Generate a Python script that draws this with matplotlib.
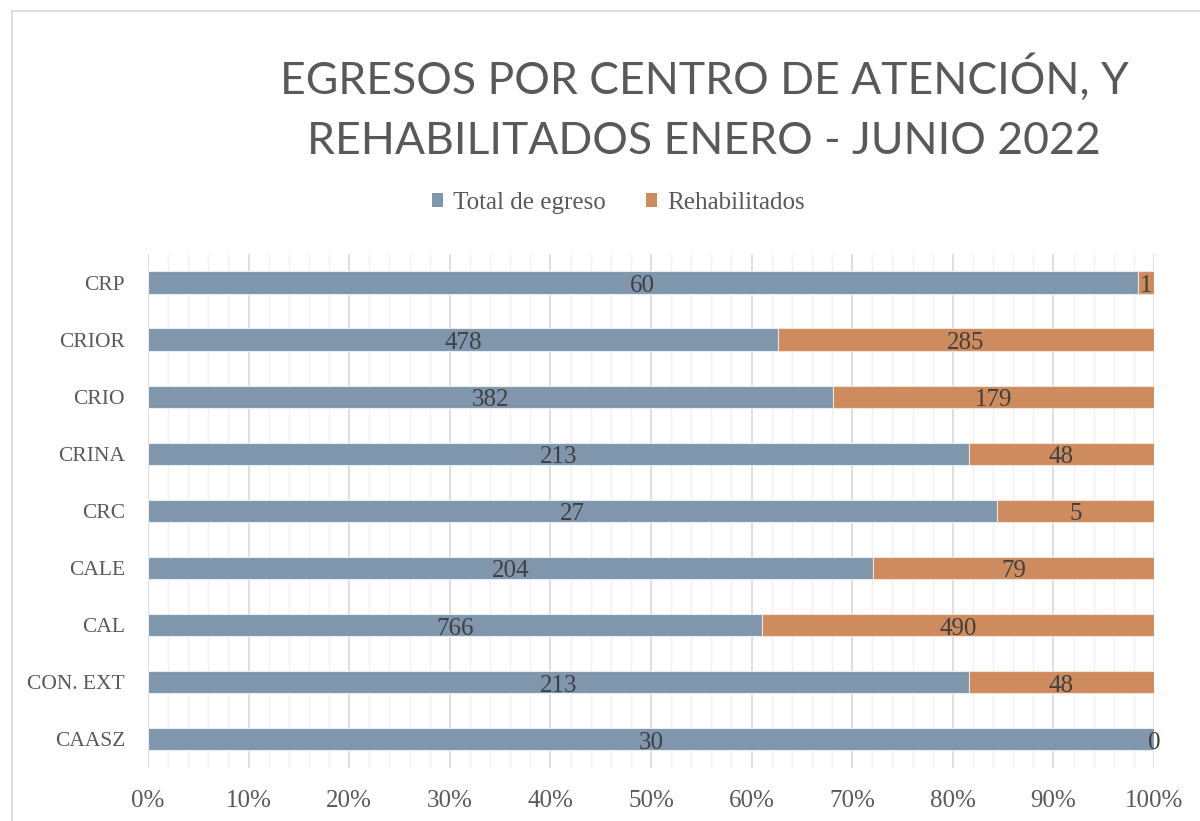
import matplotlib
matplotlib.use("Agg")
import matplotlib.pyplot as plt
import numpy as np
from matplotlib.lines import Line2D
from matplotlib.patches import Patch
from matplotlib.ticker import MultipleLocator, PercentFormatter

centros = ["CRP", "CRIOR", "CRIO", "CRINA", "CRC", "CALE", "CAL", "CON. EXT", "CAASZ"]
total_egreso = [60, 478, 382, 213, 27, 204, 766, 213, 30]
rehabilitados = [1, 285, 179, 48, 5, 79, 490, 48, 0]

BLUE = "#7F96AD"
ORANGE = "#CD8B5E"
SERIF = "Liberation Serif"
TITLE_FONT = "Lato"

fig = plt.figure(figsize=(12, 8.21), dpi=100)
ax = fig.add_axes([148 / 1200, 1 - 767.5 / 821, 1006 / 1200, 513.5 / 821])

total = np.array(total_egreso, dtype=float)
rehab = np.array(rehabilitados, dtype=float)
suma = total + rehab
pct_total = total / suma * 100
pct_rehab = rehab / suma * 100

y = np.arange(len(centros))[::-1]
h = 0.39
ax.barh(y, pct_total, height=h, color=BLUE, edgecolor="#E8EDF2", linewidth=0.8, zorder=3)
ax.barh(y, pct_rehab, left=pct_total, height=h, color=ORANGE, edgecolor="#F3E2D6",
        linewidth=0.8, zorder=3)

for yi, pt, pr, t, r in zip(y, pct_total, pct_rehab, total_egreso, rehabilitados):
    ax.text(pt / 2, yi - 0.02, str(t), ha="center", va="center_baseline", fontsize=18,
            family=SERIF, color="#404040", zorder=4)
    ax.text(pt + pr / 2, yi - 0.02, str(r), ha="center", va="center_baseline", fontsize=18,
            family=SERIF, color="#404040", zorder=4)

ax.set_xlim(0, 100)
ax.set_ylim(-0.5, len(centros) - 0.5)
ax.set_yticks(y)
ax.set_yticklabels(centros)
ax.xaxis.set_major_locator(MultipleLocator(10))
ax.xaxis.set_minor_locator(MultipleLocator(2))
ax.xaxis.set_major_formatter(PercentFormatter(decimals=0))
ax.grid(axis="x", which="major", color="#D9D9D9", linewidth=1.2, zorder=0)
ax.grid(axis="x", which="minor", color="#F0F0F0", linewidth=1.0, zorder=0)
ax.tick_params(axis="both", which="both", length=0)
ax.tick_params(axis="x", pad=16, labelsize=18, labelcolor="#595959")
ax.tick_params(axis="y", pad=16.5, labelsize=15.5, labelcolor="#595959")
for lbl in ax.get_xticklabels() + ax.get_yticklabels():
    lbl.set_family(SERIF)
for s in ax.spines.values():
    s.set_visible(False)

fig.text(704 / 1200, 1 - 94 / 821, "EGRESOS POR CENTRO DE ATENCIÓN, Y",
         ha="center", va="baseline", fontsize=32, family=TITLE_FONT, color="#595959")
fig.text(704 / 1200, 1 - 154 / 821, "REHABILITADOS ENERO - JUNIO 2022",
         ha="center", va="baseline", fontsize=32, family=TITLE_FONT, color="#595959")

handles = [Patch(facecolor=BLUE, label="Total de egreso"),
           Patch(facecolor=ORANGE, label="Rehabilitados")]
fig.legend(handles=handles, loc="center", bbox_to_anchor=(618 / 1200, 1 - 203 / 821),
           ncol=2, frameon=False, handlelength=0.45, handleheight=0.45, handletextpad=0.4,
           columnspacing=1.6, prop={"family": SERIF, "size": 18}, labelcolor="#595959")

# chart frame (top and left edges visible in the crop)
fig.add_artist(Line2D([12 / 1200, 1.0], [1 - 11 / 821, 1 - 11 / 821],
                      transform=fig.transFigure, color="#D9D9D9", linewidth=1.2))
fig.add_artist(Line2D([12 / 1200, 12 / 1200], [0.0, 1 - 11 / 821],
                      transform=fig.transFigure, color="#D9D9D9", linewidth=1.2))

fig.savefig("out.png", dpi=100)
